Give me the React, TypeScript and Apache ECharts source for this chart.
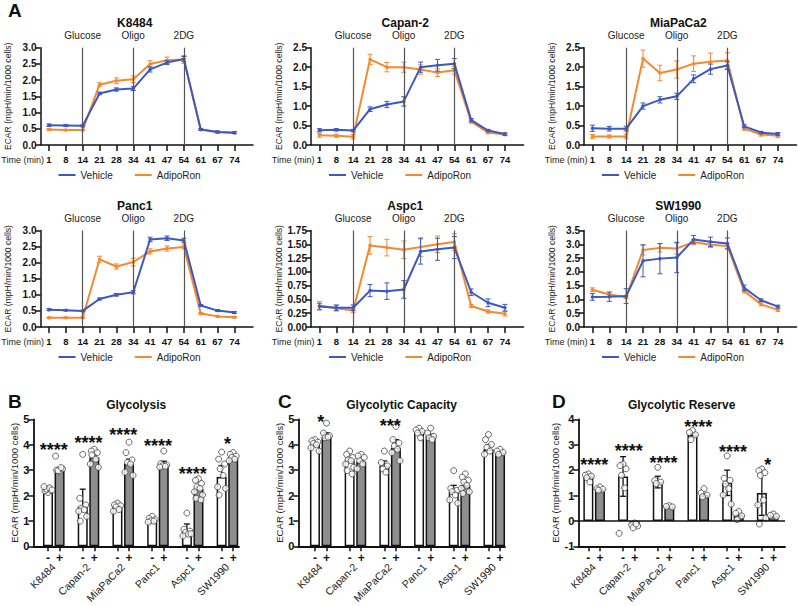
import React, { useEffect, useRef } from 'react';
import * as echarts from 'echarts';

// ---------- DATA ----------
const lineTimes = ['1', '8', '14', '21', '28', '34', '41', '47', '54', '61', '67', '74'];
const injectionNames = ['Glucose', 'Oligo', '2DG'];
const injectionTimes = ['14', '34', '54'];
const lineCells = ['K8484', 'Capan-2', 'MiaPaCa2', 'Panc1', 'Aspc1', 'SW1990'];
const lineYMax = [3.0, 2.5, 2.5, 3.0, 1.75, 3.5];
const lineYInterval = [0.5, 0.5, 0.5, 0.5, 0.25, 0.5];

const k8484Vehicle = [0.61, 0.60, 0.59, 1.59, 1.71, 1.74, 2.33, 2.54, 2.65, 0.48, 0.40, 0.38];
const k8484VehicleErr = [0.04, 0.03, 0.03, 0.04, 0.05, 0.06, 0.08, 0.06, 0.08, 0.03, 0.03, 0.03];
const k8484Adipo = [0.48, 0.46, 0.46, 1.86, 1.98, 2.03, 2.50, 2.61, 2.64, 0.48, 0.40, 0.38];
const k8484AdipoErr = [0.03, 0.02, 0.02, 0.06, 0.09, 0.10, 0.10, 0.10, 0.12, 0.03, 0.03, 0.03];

const capan2Vehicle = [0.38, 0.39, 0.37, 0.92, 1.04, 1.12, 2.00, 2.05, 2.09, 0.64, 0.37, 0.28];
const capan2VehicleErr = [0.04, 0.03, 0.03, 0.06, 0.08, 0.12, 0.13, 0.15, 0.13, 0.04, 0.03, 0.03];
const capan2Adipo = [0.25, 0.24, 0.21, 2.20, 2.00, 2.00, 1.94, 1.86, 1.92, 0.60, 0.32, 0.27];
const capan2AdipoErr = [0.05, 0.04, 0.06, 0.13, 0.12, 0.13, 0.12, 0.10, 0.10, 0.04, 0.03, 0.03];

const miaVehicle = [0.43, 0.42, 0.42, 1.00, 1.16, 1.25, 1.70, 1.95, 2.04, 0.48, 0.32, 0.28];
const miaVehicleErr = [0.08, 0.06, 0.06, 0.08, 0.08, 0.08, 0.10, 0.13, 0.10, 0.04, 0.03, 0.04];
const miaAdipo = [0.22, 0.22, 0.22, 2.22, 1.85, 1.94, 2.09, 2.14, 2.17, 0.42, 0.27, 0.24];
const miaAdipoErr = [0.05, 0.04, 0.06, 0.22, 0.20, 0.22, 0.20, 0.22, 0.20, 0.04, 0.04, 0.05];

const panc1Vehicle = [0.54, 0.52, 0.50, 0.87, 1.00, 1.08, 2.72, 2.76, 2.69, 0.67, 0.51, 0.45];
const panc1VehicleErr = [0.03, 0.02, 0.02, 0.03, 0.04, 0.05, 0.07, 0.07, 0.07, 0.03, 0.03, 0.03];
const panc1Adipo = [0.29, 0.29, 0.29, 2.10, 1.88, 2.02, 2.35, 2.44, 2.49, 0.42, 0.33, 0.30];
const panc1AdipoErr = [0.02, 0.02, 0.02, 0.10, 0.08, 0.12, 0.08, 0.08, 0.06, 0.03, 0.02, 0.02];

const aspc1Vehicle = [0.37, 0.35, 0.35, 0.66, 0.65, 0.68, 1.37, 1.41, 1.44, 0.63, 0.44, 0.35];
const aspc1VehicleErr = [0.06, 0.05, 0.05, 0.11, 0.15, 0.16, 0.23, 0.20, 0.20, 0.06, 0.07, 0.06];
const aspc1Adipo = [0.39, 0.34, 0.30, 1.48, 1.44, 1.40, 1.45, 1.50, 1.54, 0.38, 0.28, 0.24];
const aspc1AdipoErr = [0.07, 0.05, 0.04, 0.16, 0.15, 0.16, 0.17, 0.15, 0.15, 0.03, 0.03, 0.04];

const sw1990Vehicle = [1.09, 1.10, 1.12, 2.40, 2.48, 2.52, 3.17, 3.09, 3.03, 1.42, 0.97, 0.74];
const sw1990VehicleErr = [0.12, 0.17, 0.27, 0.58, 0.55, 0.55, 0.15, 0.17, 0.20, 0.10, 0.05, 0.05];
const sw1990Adipo = [1.35, 1.18, 1.08, 2.79, 2.87, 2.85, 3.08, 2.98, 2.94, 1.30, 0.82, 0.62];
const sw1990AdipoErr = [0.07, 0.05, 0.05, 0.18, 0.15, 0.20, 0.10, 0.10, 0.10, 0.06, 0.05, 0.05];

const barCells = ['K8484', 'Capan-2', 'MiaPaCa2', 'Panc1', 'Aspc1', 'SW1990'];
const treatmentSigns = ['-', '+'];
const barTitles = ['Glycolysis', 'Glycolytic Capacity', 'Glycolytic Reserve'];
const barYMin = [0, 0, -1];
const barYMax = [5, 5, 4];

// order: K8484 -, K8484 +, Capan-2 -, Capan-2 +, ...
const glycolysisMean = [2.22, 3.0, 1.57, 3.5, 1.57, 3.25, 1.05, 3.2, 0.6, 2.25, 2.73, 3.5];
const glycolysisErr = [0.1, 0.1, 0.68, 0.12, 0.06, 0.18, 0.04, 0.15, 0.28, 0.1, 0.45, 0.05];
const glycolysisPoints = [
  [2.12, 2.18, 2.2, 2.25, 2.3, 2.35, 2.22],
  [2.95, 3.0, 3.05, 2.98, 3.1, 3.55],
  [3.62, 1.89, 1.63, 1.5, 1.44, 1.38, 1.18, 0.99],
  [3.82, 3.75, 3.69, 3.56, 3.43, 3.24, 3.11, 3.6],
  [1.7, 1.63, 1.6, 1.55, 1.45, 1.38],
  [4.1, 3.69, 3.4, 3.3, 3.24, 2.92, 2.79],
  [1.18, 1.1, 1.05, 1.0, 0.99, 0.95],
  [3.75, 3.25, 3.2, 3.17, 3.15, 3.12],
  [1.31, 0.67, 0.6, 0.55, 0.48, 0.41, 0.5],
  [2.66, 2.6, 2.47, 2.34, 2.28, 2.15, 2.02, 1.89, 1.83],
  [3.71, 3.43, 3.24, 3.05, 2.79, 2.34, 2.28, 2.02],
  [3.69, 3.62, 3.55, 3.5, 3.43, 3.37],
];
const glycolysisStars = ['****', '****', '****', '****', '****', '*'];
const glycolysisStarY = [3.95, 4.23, 4.52, 4.1, 3.02, 4.18];

const capacityMean = [4.01, 4.3, 3.37, 3.33, 3.17, 3.88, 4.52, 4.33, 2.15, 2.4, 3.82, 3.69];
const capacityErr = [0.07, 0.17, 0.1, 0.08, 0.19, 0.32, 0.05, 0.08, 0.25, 0.1, 0.18, 0.05];
const capacityPoints = [
  [4.2, 4.15, 4.1, 4.05, 4.0, 3.88, 3.75],
  [4.85, 4.46, 4.35, 4.27, 4.3],
  [3.75, 3.62, 3.5, 3.4, 3.37, 3.24, 3.11, 2.98, 2.85],
  [3.62, 3.56, 3.5, 3.37, 3.24, 3.05],
  [3.75, 3.3, 3.17, 3.05, 2.92],
  [4.72, 4.2, 4.07, 3.95, 3.82, 3.69, 3.37],
  [4.65, 4.58, 4.52, 4.46, 4.27],
  [4.65, 4.46, 4.33, 4.27, 4.2],
  [2.98, 2.28, 2.2, 2.15, 2.02, 1.83, 1.7],
  [2.85, 2.72, 2.6, 2.53, 2.4, 2.28, 2.15, 2.08],
  [4.4, 4.2, 4.01, 3.9, 3.75, 3.62],
  [3.82, 3.75, 3.69, 3.62],
];
const capacityStars = ['*', '', '***', '', '', ''];
const capacityStarY = [5.04, 0, 4.91, 0, 0, 0];

const reserveMean = [1.76, 1.25, 1.75, -0.15, 1.53, 0.57, 3.39, 1.02, 1.5, 0.24, 1.1, 0.2];
const reserveErr = [0.06, 0.03, 0.78, 0.05, 0.23, 0.02, 0.05, 0.05, 0.5, 0.04, 0.88, 0.02];
const reservePoints = [
  [1.85, 1.8, 1.76, 1.7, 1.53],
  [1.34, 1.27, 1.25, 1.21],
  [2.24, 2.18, 2.05, 1.8, 1.3, -0.49],
  [-0.08, -0.15, -0.2, -0.27, -0.12],
  [2.11, 1.59, 1.53, 1.47],
  [0.6, 0.57, 0.55],
  [3.56, 3.48, 3.39, 3.2],
  [1.27, 1.1, 1.02, 0.95],
  [2.56, 1.68, 1.6, 1.45, 1.27, 1.02, 0.66],
  [0.37, 0.3, 0.2, 0.05],
  [2.04, 1.98, 1.9, 1.79, 0.82, 0.63, 0.12, -0.12],
  [0.27, 0.22, 0.18],
];
const reserveStars = ['****', '****', '****', '****', '****', '*'];
const reserveStarY = [2.37, 2.92, 2.43, 3.85, 2.88, 2.37];

// ---------- STYLE / LAYOUT ----------
const FONT = '"Liberation Sans", Arial, Helvetica, sans-serif';
const BLUE = '#3d58c2';
const ORANGE = '#f6892f';
const INK = '#111';
const YNAME = 'ECAR (mpH/min/1000 cells)';

const lineCols = [40.5, 311, 584];
const lineRows = [47.7, 230.5];
const lineRowH = [97.3, 96.5];
const lineW = 212.5;
const lineXMin = 0.5;
const lineXMax = 13.1;

const barLefts = [33.3, 298.3, 578.3];
const barWidths = [205.7, 206.7, 206.7];
const barTop = 419.3;
const barH = 129.7;
const barXMin = [-1.27, -1.44, -0.87];
const barXMax = [16.5, 16.43, 17.0];
const jitterPx = [0, -3, 3, -1.5, 1.5, -4, 4, -2.5, 2.5];

function errRender(color: string, cap: number, both: boolean, width: number) {
  return (_params: any, api: any) => {
    const x = api.value(0);
    const y = api.value(1);
    const e = api.value(2);
    const pt = api.coord([x, y + e]);
    const pb = api.coord([x, both ? y - e : y]);
    const style = { stroke: color, lineWidth: width };
    const children: any[] = [
      { type: 'line', shape: { x1: pt[0], y1: pt[1], x2: pb[0], y2: pb[1] }, style },
      { type: 'line', shape: { x1: pt[0] - cap, y1: pt[1], x2: pt[0] + cap, y2: pt[1] }, style },
    ];
    if (both) {
      children.push({ type: 'line', shape: { x1: pb[0] - cap, y1: pb[1], x2: pb[0] + cap, y2: pb[1] }, style });
    }
    return { type: 'group', children };
  };
}

function buildOption() {
  const lineData = [
    [k8484Vehicle, k8484VehicleErr, k8484Adipo, k8484AdipoErr],
    [capan2Vehicle, capan2VehicleErr, capan2Adipo, capan2AdipoErr],
    [miaVehicle, miaVehicleErr, miaAdipo, miaAdipoErr],
    [panc1Vehicle, panc1VehicleErr, panc1Adipo, panc1AdipoErr],
    [aspc1Vehicle, aspc1VehicleErr, aspc1Adipo, aspc1AdipoErr],
    [sw1990Vehicle, sw1990VehicleErr, sw1990Adipo, sw1990AdipoErr],
  ];
  const barData = [
    [glycolysisMean, glycolysisErr, glycolysisPoints, glycolysisStars, glycolysisStarY],
    [capacityMean, capacityErr, capacityPoints, capacityStars, capacityStarY],
    [reserveMean, reserveErr, reservePoints, reserveStars, reserveStarY],
  ] as any[];

  const grid: any[] = [];
  const xAxis: any[] = [];
  const yAxis: any[] = [];
  const series: any[] = [];
  const legend: any[] = [];
  const graphic: any[] = [];

  const tickIdx = lineTimes.map((_, k) => k + 1);

  lineCells.forEach((cell, i) => {
    const col = i % 3;
    const row = Math.floor(i / 3);
    const left = lineCols[col];
    const top = lineRows[row];
    const h = lineRowH[row];
    grid.push({ left, top, width: lineW, height: h });
    xAxis.push({
      gridIndex: i,
      type: 'value',
      min: lineXMin,
      max: lineXMax,
      splitLine: { show: false },
      axisLine: { onZero: false, lineStyle: { color: INK, width: 1.5 } },
      axisTick: { customValues: tickIdx, length: 6, lineStyle: { color: INK, width: 1.5 } },
      axisLabel: {
        customValues: tickIdx,
        formatter: (v: number) => lineTimes[Math.round(v) - 1] ?? '',
        fontFamily: FONT,
        fontWeight: 'bold',
        fontSize: 9.5,
        color: INK,
        margin: 9,
      },
    });
    const dec = lineYInterval[i] < 0.5 ? 2 : 1;
    yAxis.push({
      gridIndex: i,
      type: 'value',
      min: 0,
      max: lineYMax[i],
      interval: lineYInterval[i],
      splitLine: { show: false },
      axisLine: { show: true, lineStyle: { color: INK, width: 1.5 } },
      axisTick: { show: true, length: 5, lineStyle: { color: INK, width: 1.5 } },
      axisLabel: {
        formatter: (v: number) => v.toFixed(dec),
        fontFamily: FONT,
        fontWeight: 'bold',
        fontSize: 10,
        color: INK,
        margin: 4,
      },
      name: YNAME,
      nameLocation: 'middle',
      nameGap: 28,
      nameTextStyle: { fontFamily: FONT, fontSize: 8.6, color: '#222' },
    });
    const [veh, vehErr, adi, adiErr] = lineData[i];
    series.push({
      type: 'line',
      name: 'AdipoRon',
      xAxisIndex: i,
      yAxisIndex: i,
      data: adi.map((v, k) => [k + 1, v]),
      color: ORANGE,
      lineStyle: { width: 2, color: ORANGE },
      symbol: 'circle',
      symbolSize: 3.5,
      itemStyle: { color: ORANGE },
      z: 2,
      markLine: {
        silent: true,
        symbol: 'none',
        lineStyle: { color: '#555', width: 1.2, type: 'solid' },
        label: {
          show: true,
          position: 'end',
          distance: 7,
          fontFamily: FONT,
          fontSize: 10,
          color: '#222',
          formatter: (p: any) => p.name,
        },
        data: injectionTimes.map((t, m) => ({
          name: injectionNames[m],
          xAxis: lineTimes.indexOf(t) + 1,
        })),
      },
    });
    series.push({
      type: 'custom',
      name: 'AdipoRonErr',
      xAxisIndex: i,
      yAxisIndex: i,
      data: adi.map((v, k) => [k + 1, v, adiErr[k]]),
      encode: { x: 0, y: 1 },
      renderItem: errRender(ORANGE, 2.5, true, 1),
      z: 2,
    });
    series.push({
      type: 'line',
      name: 'Vehicle',
      xAxisIndex: i,
      yAxisIndex: i,
      data: veh.map((v, k) => [k + 1, v]),
      color: BLUE,
      lineStyle: { width: 2, color: BLUE },
      symbol: 'circle',
      symbolSize: 3.5,
      itemStyle: { color: BLUE },
      z: 3,
    });
    series.push({
      type: 'custom',
      name: 'VehicleErr',
      xAxisIndex: i,
      yAxisIndex: i,
      data: veh.map((v, k) => [k + 1, v, vehErr[k]]),
      encode: { x: 0, y: 1 },
      renderItem: errRender(BLUE, 2.5, true, 1),
      z: 3,
    });
    legend.push({
      data: ['Vehicle', 'AdipoRon'],
      left: left + 13,
      top: top + h + 20,
      icon: 'rect',
      itemWidth: 17,
      itemHeight: 2,
      itemGap: 22,
      textStyle: { fontFamily: FONT, fontSize: 10, color: '#222' },
    });
    const firstTickX = left + ((1 - lineXMin) / (lineXMax - lineXMin)) * lineW;
    graphic.push({
      type: 'text',
      x: firstTickX - 5,
      y: top + h + 15,
      style: { text: 'Time (min)', font: `9px ${FONT}`, fill: '#222', textAlign: 'right', textVerticalAlign: 'middle' },
    });
    graphic.push({
      type: 'text',
      x: left + lineW / 2 - 12,
      y: top - 25,
      style: { text: cell, font: `bold 12px ${FONT}`, fill: INK, textAlign: 'center', textVerticalAlign: 'middle' },
    });
  });

  barTitles.forEach((title, b) => {
    const gi = 6 + b;
    const left = barLefts[b];
    const w = barWidths[b];
    const xMin = barXMin[b];
    const xMax = barXMax[b];
    const unit = w / (xMax - xMin);
    grid.push({ left, top: barTop, width: w, height: barH });
    const barPos: number[] = [];
    barCells.forEach((_, c) => treatmentSigns.forEach((_s, s) => barPos.push(3 * c + s)));
    const xa = xAxis.length;
    xAxis.push({
      gridIndex: gi,
      type: 'value',
      min: xMin,
      max: xMax,
      splitLine: { show: false },
      axisLine: { onZero: false, lineStyle: { color: INK, width: 1.8 } },
      axisTick: { customValues: barPos, length: 5, lineStyle: { color: INK, width: 1.5 } },
      axisLabel: {
        customValues: barPos,
        formatter: (v: number) => treatmentSigns[Math.round(v) % 3] ?? '',
        fontFamily: FONT,
        fontWeight: 'bold',
        fontSize: 12,
        color: INK,
        margin: 6,
      },
    });
    xAxis.push({
      gridIndex: gi,
      type: 'value',
      min: xMin,
      max: xMax,
      position: 'bottom',
      splitLine: { show: false },
      axisLine: { show: false },
      axisTick: { show: false },
      axisLabel: {
        customValues: barCells.map((_, c) => 3 * c + 0.5),
        formatter: (v: number) => barCells[Math.round((v - 0.5) / 3)] ?? '',
        rotate: 45,
        fontFamily: FONT,
        fontSize: 10.5,
        color: '#222',
        margin: 19,
      },
    });
    const ya = yAxis.length;
    yAxis.push({
      gridIndex: gi,
      type: 'value',
      min: barYMin[b],
      max: barYMax[b],
      interval: 1,
      splitLine: { show: false },
      axisLine: { show: true, onZero: false, lineStyle: { color: INK, width: 1.8 } },
      axisTick: { show: true, length: 5, lineStyle: { color: INK, width: 1.5 } },
      axisLabel: { fontFamily: FONT, fontWeight: 'bold', fontSize: 11, color: INK, margin: 4 },
      name: YNAME,
      nameLocation: 'middle',
      nameGap: b === 2 ? 17 : 13,
      nameTextStyle: { fontFamily: FONT, fontSize: 9.6, color: '#222' },
    });
    const [means, errs, points, stars, starY] = barData[b];
    const both = b === 2;
    series.push({
      type: 'bar',
      name: 'bars' + b,
      xAxisIndex: xa,
      yAxisIndex: ya,
      barWidth: 10,
      data: (means as number[]).map((m, k) => ({
        value: [barPos[k], m],
        itemStyle: { color: k % 2 === 0 ? '#ffffff' : '#8e8e8e', borderColor: INK, borderWidth: 1.5 },
      })),
      z: 2,
      markLine: both
        ? {
            silent: true,
            symbol: 'none',
            label: { show: false },
            lineStyle: { color: INK, width: 1.5, type: 'solid' },
            data: [{ yAxis: 0 }],
          }
        : undefined,
    });
    series.push({
      type: 'custom',
      name: 'barErr' + b,
      xAxisIndex: xa,
      yAxisIndex: ya,
      data: (means as number[]).map((m, k) => [barPos[k], m, errs[k]]),
      encode: { x: 0, y: 1 },
      renderItem: errRender(INK, 3, both, 1.3),
      z: 3,
    });
    const pts: number[][] = [];
    (points as number[][]).forEach((arr, k) => {
      arr.forEach((v, j) => pts.push([barPos[k] + jitterPx[j % jitterPx.length] / unit, v]));
    });
    series.push({
      type: 'scatter',
      name: 'pts' + b,
      xAxisIndex: xa,
      yAxisIndex: ya,
      data: pts,
      symbol: 'circle',
      symbolSize: 6,
      itemStyle: { color: '#ffffff', borderColor: '#444', borderWidth: 1 },
      z: 4,
    });
    const starItems: number[][] = [];
    (stars as string[]).forEach((s, c) => {
      if (s) starItems.push([3 * c + 0.5, starY[c], c]);
    });
    series.push({
      type: 'custom',
      name: 'stars' + b,
      xAxisIndex: xa,
      yAxisIndex: ya,
      data: starItems,
      encode: { x: 0, y: 1 },
      renderItem: (_p: any, api: any) => {
        const p = api.coord([api.value(0), api.value(1)]);
        return {
          type: 'text',
          x: p[0],
          y: p[1] + 4,
          style: {
            text: (stars as string[])[api.value(2)],
            font: `bold 18px ${FONT}`,
            fill: INK,
            textAlign: 'center',
            textVerticalAlign: 'middle',
          },
        };
      },
      z: 5,
    });
    graphic.push({
      type: 'text',
      x: left + w / 2,
      y: barTop - 14.5,
      style: { text: title, font: `bold 12px ${FONT}`, fill: INK, textAlign: 'center', textVerticalAlign: 'middle' },
    });
  });

  const letters = [
    ['A', 8, 1],
    ['B', 8, 392],
    ['C', 278, 392],
    ['D', 552, 392],
  ];
  letters.forEach(([t, x, y]) => {
    graphic.push({
      type: 'text',
      x,
      y,
      style: { text: t, font: `bold 19px ${FONT}`, fill: INK, textAlign: 'left', textVerticalAlign: 'top' },
    });
  });

  return {
    animation: false,
    backgroundColor: '#ffffff',
    textStyle: { fontFamily: FONT },
    grid,
    xAxis,
    yAxis,
    legend,
    series,
    graphic,
  };
}

export default function App() {
  const ref = useRef<HTMLDivElement>(null);
  useEffect(() => {
    const chart = echarts.init(ref.current!, null, { renderer: 'svg' });
    chart.setOption(buildOption() as any);
    return () => chart.dispose();
  }, []);
  return (
    <div
      ref={ref}
      style={{ position: 'fixed', left: 0, top: 0, width: 798, height: 606, background: '#ffffff' }}
    />
  );
}
